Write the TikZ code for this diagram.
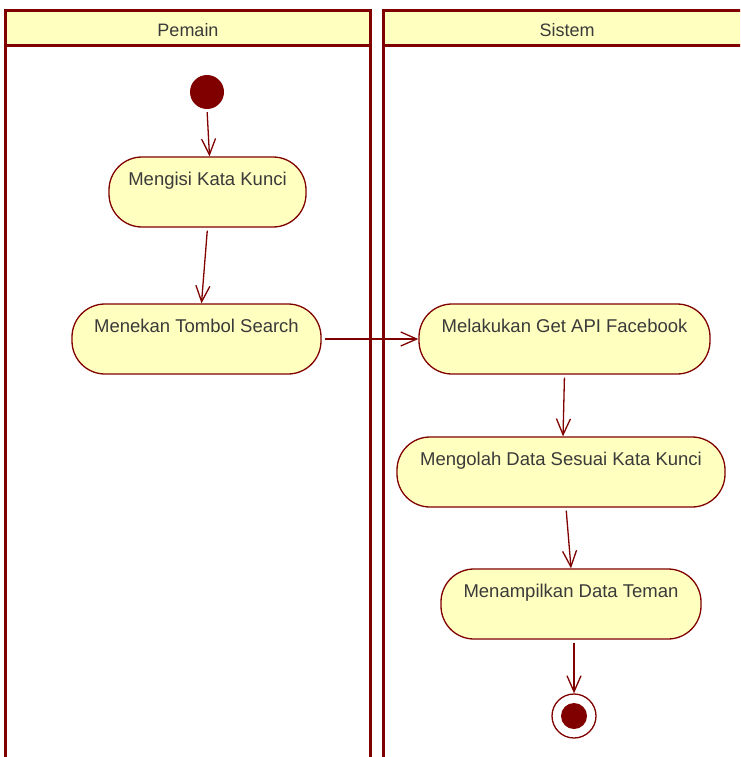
\documentclass[tikz,border=0pt]{standalone}
\usepackage{fontspec}
\setmainfont{Liberation Sans}
\usetikzlibrary{arrows.meta}
\definecolor{umlred}{HTML}{800000}
\definecolor{umlfill}{HTML}{FFFFC0}
\definecolor{umltext}{HTML}{3A3A3A}

\begin{document}
\begin{tikzpicture}[x=1pt,y=-1pt,
  lane/.style={draw=umlred, line width=3pt},
  lanehead/.style={font=\fontsize{18}{20}\selectfont, text=umltext, inner sep=0pt},
  action/.style={draw=umlred, fill=umlfill, line width=1.3pt, rectangle,
    rounded corners=33pt, inner xsep=0pt, inner ysep=0pt,
    text height=28pt, text depth=42pt,
    font=\fontsize{18.5}{20}\selectfont, text=umltext},
  startnode/.style={circle, fill=umlred, minimum size=34pt, inner sep=0pt},
  endnode/.style={circle, draw=umlred, line width=1.3pt, fill=white,
    minimum size=44pt, inner sep=0pt,
    path picture={\fill[umlred] (path picture bounding box.center) circle (13pt);}},
  flow/.style={draw=umlred, line width=1.3pt,
    -{Straight Barb[length=16pt,width=14pt]}, shorten <=3pt},
]
\useasboundingbox (0,0) rectangle (740,757);
\clip (0,0) rectangle (740,757);

% swimlanes
\fill[umlfill] (5.5,10.5) rectangle (370,46);
\fill[umlfill] (383,10.5) rectangle (760,46);
\draw[lane] (5.5,800) -- (5.5,10.5) -- (370,10.5) -- (370,800);
\draw[lane] (5.5,46) -- (370,46);
\draw[lane] (383,800) -- (383,10.5) -- (760,10.5);
\draw[lane] (383,46) -- (760,46);
\node[lanehead] (hpemain) at (188,30) {Pemain};
\node[lanehead] (hsistem) at (567,30) {Sistem};

% activities
\node[startnode] (start) at (207,92) {};
\node[action, minimum width=197pt] (mengisi) at (207.5,192) {Mengisi Kata Kunci};
\node[action, minimum width=249pt] (menekan) at (196.5,339) {Menekan Tombol Search};
\node[action, minimum width=291pt] (melakukan) at (564.5,339) {Melakukan Get API Facebook};
\node[action, minimum width=328pt] (mengolah) at (561,472) {Mengolah Data Sesuai Kata Kunci};
\node[action, minimum width=260pt] (menampilkan) at (571,604) {Menampilkan Data Teman};
\node[endnode] (finish) at (574,716) {};

% control flows
\draw[flow] (start.south) -- ([xshift=2pt]mengisi.north);
\draw[flow] (mengisi.south) -- ([xshift=5pt]menekan.north);
\draw[flow] (menekan.east) -- (melakukan.west);
\draw[flow] (melakukan.south) -- ([xshift=2pt]mengolah.north);
\draw[flow] ([xshift=5pt]mengolah.south) -- (menampilkan.north);
\draw[flow] ([xshift=3pt]menampilkan.south) -- (finish.north);
\end{tikzpicture}
\end{document}
